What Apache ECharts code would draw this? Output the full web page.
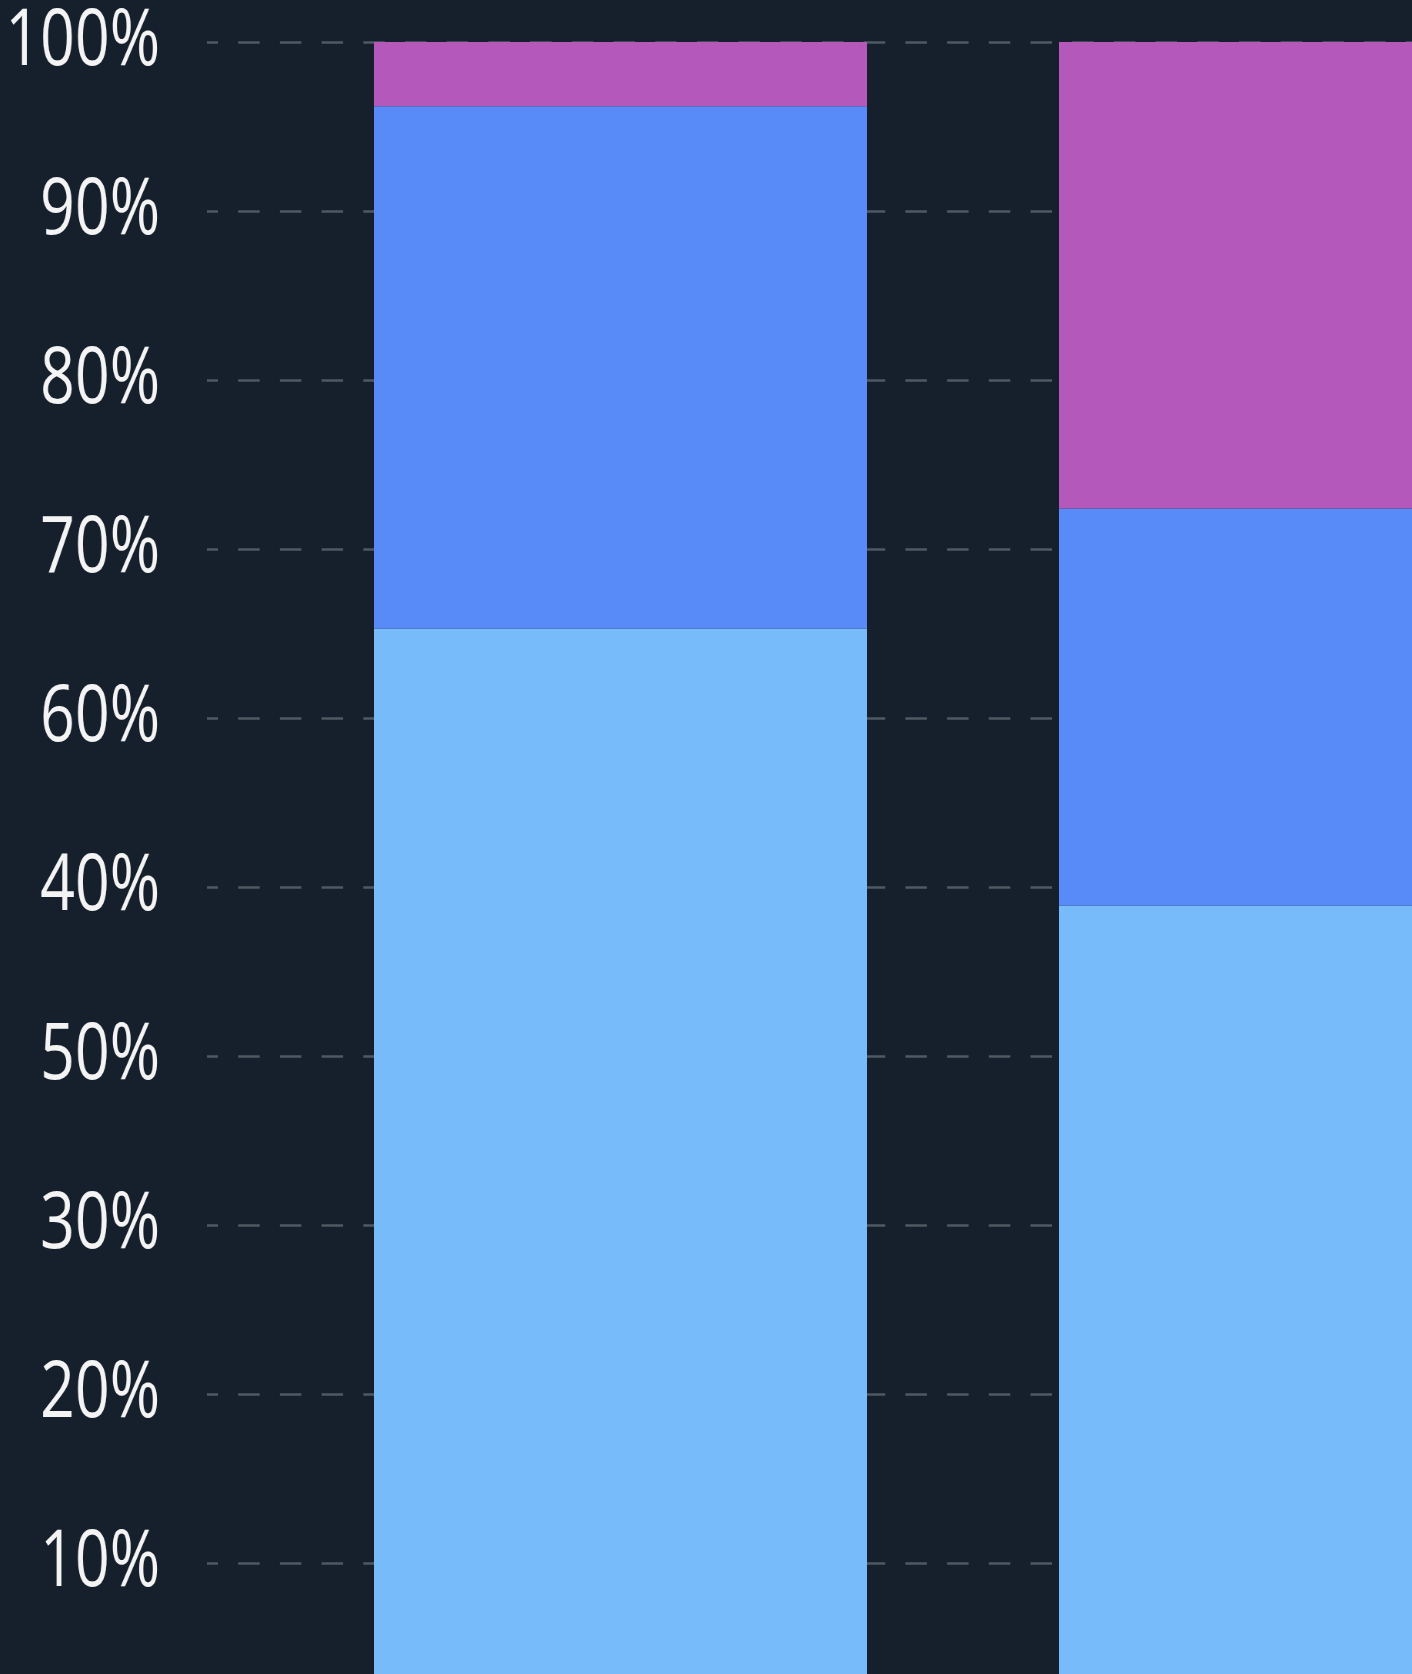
<!DOCTYPE html>
<html>
<head>
<meta charset="utf-8">
<script src="https://cdn.jsdelivr.net/npm/echarts@6/dist/echarts.min.js"></script>
<style>
  html, body { margin: 0; padding: 0; background: #16202d; overflow: hidden; }
  #chart { position: absolute; left: 0; top: 0; width: 1800px; height: 1800px; }
  /* axis labels sit in their own instance, squeezed horizontally like the source font */
  #labels { position: absolute; left: -100px; top: 0; width: 310px; height: 1800px;
            transform: scaleX(0.77); transform-origin: 260px 0; }
</style>
</head>
<body>
<div id="chart"></div>
<div id="labels"></div>
<script>
const categories = ['A', 'B'];

// stacked shares per column, bottom to top
const lowShare = [65.3, 48.9];
const midShare = [30.9, 23.5];
const topShare = [3.8, 27.6];

// tick labels as printed, from 0 upward
const tickLabels = ['0%', '10%', '20%', '30%', '50%', '40%', '60%', '70%', '80%', '90%', '100%'];

const seriesColors = ['#78bbfb', '#588bf8', '#b558bc'];

const gridTop = 42;
const gridBottom = 68;

const valueAxis = extra => Object.assign({
    type: 'value',
    min: 0,
    max: 100,
    interval: 10,
    axisLine: { show: false },
    axisTick: { show: false }
}, extra);

const makeSeries = (name, values, color) => ({
    name: name,
    type: 'bar',
    stack: 'total',
    barWidth: 493,
    xAxisIndex: 1,
    yAxisIndex: 1,
    itemStyle: { color: color },
    data: values
});

// main chart: dashed grid lines + stacked bars
const chart = echarts.init(document.getElementById('chart'));
chart.setOption({
    backgroundColor: '#16202d',
    animation: false,
    grid: [
        { left: 207, right: 81, top: gridTop, bottom: gridBottom, outerBoundsMode: 'none' },
        { left: 278, right: 152, top: gridTop, bottom: gridBottom, outerBoundsMode: 'none' }
    ],
    xAxis: [
        { type: 'value', gridIndex: 0, show: false },
        { type: 'category', gridIndex: 1, data: categories, show: false }
    ],
    yAxis: [
        valueAxis({
            gridIndex: 0,
            axisLabel: { show: false },
            splitLine: {
                lineStyle: { color: '#4e5962', width: 2.6, type: [21.5, 20.2], dashOffset: 10.5 }
            }
        }),
        valueAxis({ gridIndex: 1, show: false, splitLine: { show: false } })
    ],
    series: [
        makeSeries('low', lowShare, seriesColors[0]),
        makeSeries('mid', midShare, seriesColors[1]),
        makeSeries('top', topShare, seriesColors[2])
    ]
});

// label strip (its right edge lines up with x = 160 on the page)
const labels = echarts.init(document.getElementById('labels'));
labels.setOption({
    animation: false,
    grid: { left: 307, right: 1, top: gridTop, bottom: gridBottom, outerBoundsMode: 'none' },
    xAxis: { type: 'value', show: false },
    yAxis: valueAxis({
        splitLine: { show: false },
        axisLabel: {
            margin: 47,
            color: '#f4f4f4',
            fontSize: 79,
            fontFamily: '"Open Sans", sans-serif',
            formatter: v => tickLabels[Math.round(v / 10)]
        }
    })
});
</script>
</body>
</html>
